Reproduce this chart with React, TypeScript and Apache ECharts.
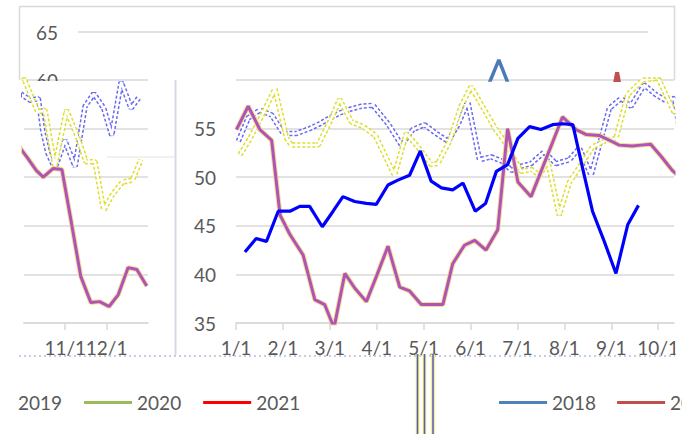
import React, { useEffect, useRef } from "react";
import * as echarts from "echarts";

// Month labels (index 0 = Jan 1)
const MONTH_LABELS = ["1/1", "2/1", "3/1", "4/1", "5/1", "6/1", "7/1", "8/1", "9/1", "10/1", "11/1", "12/1"];
const Y_MAIN_LABELS = [35, 40, 45, 50, 55, 60];

// Bright blue series (month position, value)
const BLUE_MONTH = [0.19, 0.43, 0.65, 0.9, 1.15, 1.36, 1.57, 1.84, 2.07, 2.28, 2.53, 2.78, 2.99, 3.24, 3.45, 3.7, 3.93, 4.16, 4.38, 4.62, 4.84, 5.1, 5.32, 5.55, 5.79, 6.01, 6.26, 6.5, 6.75, 6.96, 7.18, 7.39, 7.6, 7.85, 8.1, 8.35, 8.58];
const BLUE_VALUE = [42.3, 43.7, 43.4, 46.5, 46.5, 47.0, 47.0, 44.9, 46.5, 48.0, 47.5, 47.3, 47.2, 49.2, 49.7, 50.2, 52.7, 49.6, 48.9, 48.7, 49.4, 46.5, 47.3, 50.6, 51.3, 54.0, 55.2, 54.9, 55.4, 55.5, 55.4, 50.9, 46.5, 43.4, 40.1, 45.1, 47.1];

// Purple series
const PURPLE_MONTH = [0.01, 0.26, 0.51, 0.76, 0.94, 1.15, 1.43, 1.68, 1.89, 2.09, 2.32, 2.53, 2.78, 3.01, 3.24, 3.49, 3.7, 3.95, 4.18, 4.41, 4.62, 4.87, 5.09, 5.33, 5.58, 5.79, 6.01, 6.29, 6.52, 6.75, 6.96, 7.25, 7.46, 7.74, 7.96, 8.17, 8.45, 8.63, 8.84, 9.07, 9.3, 9.47, 9.71, 9.92, 10.15, 10.375, 10.62, 10.83, 11.06, 11.28, 11.52, 11.73, 11.97];
const PURPLE_VALUE = [54.9, 57.3, 54.9, 53.8, 46.1, 44.1, 42.0, 37.4, 36.9, 34.5, 40.1, 38.6, 37.2, 40.0, 42.9, 38.7, 38.3, 36.9, 36.9, 36.9, 41.1, 43.0, 43.5, 42.5, 44.6, 55.0, 49.5, 48.0, 50.8, 53.6, 56.2, 54.9, 54.4, 54.3, 53.8, 53.3, 53.2, 53.3, 53.4, 52.1, 50.7, 50.0, 50.9, 50.8, 45.3, 39.8, 37.1, 37.2, 36.7, 37.9, 40.7, 40.5, 38.8];

// Ghost blue (outlined) series
const GHOST_BLUE_MONTH = [0.05, 0.26, 0.51, 0.76, 1.01, 1.29, 1.57, 1.79, 2.0, 2.21, 2.44, 2.67, 2.92, 3.24, 3.53, 3.77, 4.02, 4.27, 4.52, 4.73, 4.94, 5.19, 5.44, 5.69, 5.87, 6.06, 6.29, 6.57, 6.82, 7.11, 7.32, 7.57, 7.96, 8.21, 8.42, 8.7, 8.95, 9.16, 9.35, 9.46, 9.58, 9.75, 9.99, 10.24, 10.48, 10.69, 10.93, 11.125, 11.35, 11.59, 11.8];
const GHOST_BLUE_VALUE = [53.7, 56.1, 56.9, 56.4, 54.5, 54.5, 55.0, 55.5, 56.1, 56.6, 57.0, 57.3, 57.4, 55.5, 53.3, 54.9, 55.4, 54.5, 53.7, 55.4, 57.8, 51.8, 52.1, 51.6, 50.7, 51.1, 51.4, 52.6, 51.4, 51.8, 53.0, 50.2, 57.1, 58.1, 57.3, 59.5, 58.5, 57.9, 58.1, 54.7, 52.5, 50.9, 53.8, 51.1, 57.3, 58.6, 57.1, 54.3, 59.8, 57.1, 58.3];

// Ghost yellow (outlined) series
const GHOST_YELLOW_MONTH = [0.085, 0.3, 0.58, 0.83, 1.08, 1.18, 1.65, 1.75, 2.0, 2.21, 2.46, 2.71, 2.97, 3.17, 3.38, 3.63, 3.88, 4.16, 4.3, 4.55, 4.8, 5.01, 5.54, 5.72, 6.08, 6.3, 6.47, 6.65, 6.89, 7.11, 7.36, 7.6, 7.85, 8.1, 8.35, 8.67, 9.0, 9.34, 9.51, 9.75, 10.03, 10.31, 10.5, 10.72, 10.93, 11.14, 11.38, 11.625, 11.83];
const GHOST_YELLOW_VALUE = [52.3, 54.0, 56.6, 59.1, 54.0, 53.3, 53.3, 53.3, 55.7, 58.0, 55.7, 55.2, 54.3, 52.3, 50.2, 54.5, 53.1, 51.3, 51.4, 53.7, 57.3, 59.3, 54.9, 53.7, 50.6, 50.8, 50.2, 51.6, 46.1, 49.5, 51.3, 53.1, 53.7, 54.0, 58.5, 60.0, 60.2, 56.7, 56.9, 51.1, 56.9, 54.0, 51.6, 51.6, 46.6, 48.2, 49.5, 49.7, 51.8];

// Top strip peaks (original chart above 60)
const TOP_2018_POS = [8.66, 8.86, 9.05];
const TOP_2018_VALUE = [59.7, 62.1, 59.7];
const TOP_2019_POS = [11.3, 11.35, 11.4];
const TOP_2019_VALUE = [59.5, 60.8, 59.5];

const LEGEND_LEFT = ["2019", "2020", "2021"];
const LEGEND_RIGHT = ["2018", "2019"];
const LEGEND_COLORS: Record<string, string> = {
  "2018": "#4f81bd",
  "2019": "#c0504d",
  "2020": "#9bbb59",
  "2021": "#ff0000",
};

const zip = (xs: number[], ys: number[]) => xs.map((x, i) => [x, ys[i]]);

const FONT = "Lato, 'Open Sans', sans-serif";
const LABEL_COLOR = "#595959";
const GRID_COLOR = "#d9d9d9";

export default function App() {
  const ref = useRef<HTMLDivElement>(null);
  useEffect(() => {
    if (!ref.current) return;
    const chart = echarts.init(ref.current, undefined, { renderer: "svg" });

    const panelSeries = (axisIdx: number) => {
      const base = {
        type: "line",
        xAxisIndex: axisIdx,
        yAxisIndex: axisIdx,
        symbol: "none",
        clip: true,
        silent: true,
      };
      return [
        { ...base, name: "2020", data: zip(GHOST_BLUE_MONTH, GHOST_BLUE_VALUE), itemStyle: { color: "#6a6af0" }, lineStyle: { color: "#6a6af0", width: 5.5, type: [3, 2] } },
        { ...base, name: "_gbw", data: zip(GHOST_BLUE_MONTH, GHOST_BLUE_VALUE), lineStyle: { color: "#ffffff", width: 2.5 } },
        { ...base, name: "2021", data: zip(GHOST_YELLOW_MONTH, GHOST_YELLOW_VALUE), itemStyle: { color: "#dede30" }, lineStyle: { color: "#dede30", width: 5.5, type: [3, 2] } },
        { ...base, name: "_gyw", data: zip(GHOST_YELLOW_MONTH, GHOST_YELLOW_VALUE), lineStyle: { color: "#ffffff", width: 2.5 } },
        { ...base, name: "_ph", data: zip(PURPLE_MONTH, PURPLE_VALUE), lineStyle: { color: "#ecdf9c", width: 5 } },
        { ...base, name: "2019", data: zip(PURPLE_MONTH, PURPLE_VALUE), itemStyle: { color: "#b252b4" }, lineStyle: { color: "#b252b4", width: 3 } },
        { ...base, name: "2018", data: zip(BLUE_MONTH, BLUE_VALUE), itemStyle: { color: "#0000ff" }, lineStyle: { color: "#0000ff", width: 3.2 } },
      ];
    };

    const monthFmt = (v: number) => MONTH_LABELS[Math.round(v) % 12];

    const xAxisCommon = {
      type: "value",
      interval: 1,
      axisLine: { show: true, lineStyle: { color: GRID_COLOR, width: 1.5 } },
      axisTick: { show: true, length: 7, lineStyle: { color: GRID_COLOR, width: 1.5 } },
      splitLine: { show: false },
      axisLabel: { formatter: monthFmt, color: LABEL_COLOR, fontSize: 19, fontFamily: FONT, margin: 15, showMaxLabel: false },
    };
    const yAxisCommon = {
      type: "value",
      min: Y_MAIN_LABELS[0],
      max: Y_MAIN_LABELS[Y_MAIN_LABELS.length - 1],
      interval: 5,
      axisLine: { show: false },
      axisTick: { show: false },
      splitLine: { show: true, lineStyle: { color: GRID_COLOR, width: 1.5 } },
    };

    const legendCommon = {
      orient: "horizontal",
      icon: "rect",
      itemWidth: 48,
      itemHeight: 3,
      padding: 0,
      selectedMode: false,
      textStyle: { color: LABEL_COLOR, fontSize: 19, fontFamily: FONT },
      top: 393,
    };

    const option: any = {
      animation: false,
      backgroundColor: "#ffffff",
      textStyle: { fontFamily: FONT },
      grid: [
        { left: 78, top: 32, width: 570, height: 48 },
        { left: 236, top: 80, width: 439, height: 243 },
        { left: 4, top: 80, width: 144, height: 243 },
      ],
      xAxis: [
        { type: "value", gridIndex: 0, min: 0, max: 12, show: false },
        { ...xAxisCommon, gridIndex: 1, min: 0, max: 9.34 },
        { ...xAxisCommon, gridIndex: 2, min: 9, max: 12 },
      ],
      yAxis: [
        {
          type: "value",
          gridIndex: 0,
          min: 60,
          max: 65,
          interval: 5,
          axisLine: { show: false },
          axisTick: { show: false },
          splitLine: { show: true, lineStyle: { color: ["rgba(0,0,0,0)", GRID_COLOR], width: 1.5 } },
          axisLabel: { color: LABEL_COLOR, fontSize: 19, fontFamily: FONT, margin: 20 },
        },
        { ...yAxisCommon, gridIndex: 1, axisLabel: { color: LABEL_COLOR, fontSize: 19, fontFamily: FONT, margin: 20, showMaxLabel: false } },
        { ...yAxisCommon, gridIndex: 2, axisLabel: { show: false } },
      ],
      legend: [
        {
          ...legendCommon,
          left: -35,
          width: 400,
          itemGap: 22,
          data: LEGEND_LEFT.map((n) => ({ name: n, itemStyle: { color: LEGEND_COLORS[n], borderWidth: 0 } })),
        },
        {
          ...legendCommon,
          left: 499,
          width: 400,
          itemGap: 21,
          data: LEGEND_RIGHT.map((n) => ({ name: n, itemStyle: { color: LEGEND_COLORS[n], borderWidth: 0 } })),
        },
      ],
      series: [
        {
          type: "line",
          name: "2018",
          xAxisIndex: 0,
          yAxisIndex: 0,
          symbol: "none",
          clip: true,
          data: zip(TOP_2018_POS, TOP_2018_VALUE),
          itemStyle: { color: "#4f81bd" },
          lineStyle: { color: "#4a7ab8", width: 3.5 },
        },
        {
          type: "line",
          name: "2019",
          xAxisIndex: 0,
          yAxisIndex: 0,
          symbol: "none",
          clip: true,
          data: zip(TOP_2019_POS, TOP_2019_VALUE),
          itemStyle: { color: "#c0504d" },
          lineStyle: { color: "#c0504d", width: 4 },
        },
        ...panelSeries(1),
        ...panelSeries(2),
      ],
      graphic: [
        {
          type: "polyline",
          z: 1,
          shape: { points: [[19.5, 80], [19.5, 6.5], [674.5, 6.5], [674.5, 80]] },
          style: { stroke: GRID_COLOR, lineWidth: 1.5, fill: "none" },
        },
        { type: "rect", z: 1, shape: { x: 25, y: 81, width: 50, height: 10 }, style: { fill: "#ffffff" } },
        { type: "line", z: 1, shape: { x1: 175.5, y1: 80, x2: 175.5, y2: 355 }, style: { stroke: "#d8d8e4", lineWidth: 2 } },
        { type: "line", z: 1, shape: { x1: 107, y1: 157, x2: 175, y2: 157 }, style: { stroke: "#e2e2e2", lineWidth: 1 } },
        { type: "line", z: 1, shape: { x1: 19, y1: 356, x2: 675, y2: 356 }, style: { stroke: "#c9cde4", lineWidth: 2, lineDash: [2, 3] } },
        { type: "line", z: 1, shape: { x1: 417.5, y1: 354, x2: 417.5, y2: 434 }, style: { stroke: "#eeee60", lineWidth: 3.5 } },
        { type: "line", z: 1, shape: { x1: 417.5, y1: 354, x2: 417.5, y2: 434 }, style: { stroke: "#5a5ad0", lineWidth: 1.5 } },
        { type: "line", z: 1, shape: { x1: 424.5, y1: 354, x2: 424.5, y2: 434 }, style: { stroke: "#eeee60", lineWidth: 3.5 } },
        { type: "line", z: 1, shape: { x1: 424.5, y1: 354, x2: 424.5, y2: 434 }, style: { stroke: "#5a5ad0", lineWidth: 1.5 } },
        { type: "line", z: 1, shape: { x1: 433, y1: 354, x2: 433, y2: 434 }, style: { stroke: "#eeee60", lineWidth: 3.5 } },
        { type: "line", z: 1, shape: { x1: 433, y1: 354, x2: 433, y2: 434 }, style: { stroke: "#5a5ad0", lineWidth: 1.5 } },
        { type: "rect", z: 100, shape: { x: 0, y: 0, width: 17.5, height: 434 }, style: { fill: "#ffffff" } },
        { type: "rect", z: 100, shape: { x: 675.5, y: 82, width: 7, height: 280 }, style: { fill: "#ffffff" } },
      ],
    };

    chart.setOption(option);
    return () => chart.dispose();
  }, []);

  return (
    <div
      ref={ref}
      style={{ position: "absolute", left: 0, top: 0, width: 682, height: 434, background: "#ffffff" }}
    />
  );
}
